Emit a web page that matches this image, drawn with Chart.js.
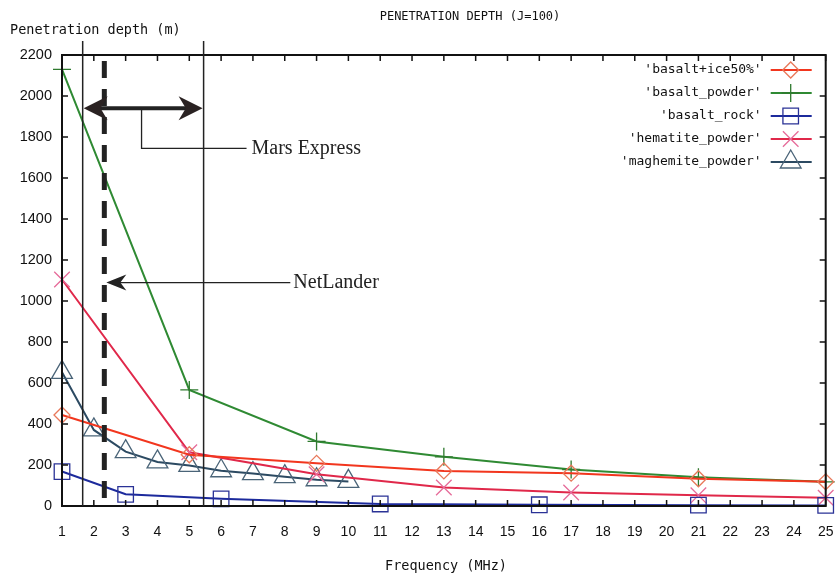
<!DOCTYPE html>
<html lang="en">
<head>
  <meta charset="UTF-8" />
  <title>Penetration depth</title>
  <script src="https://cdn.jsdelivr.net/npm/chart.js"></script>
  <style>
    html, body { margin: 0; padding: 0; background: #fff; }
    #wrap { width: 839px; height: 577px; }
  </style>
</head>
<body>
  <div id="wrap"><canvas id="chart" width="839" height="577"></canvas></div>

  <script>
    // data (frequency in MHz, depth in m)
    const iceFreq = [1, 5, 9, 13, 17, 21, 25];
    const iceDepth = [444, 250, 208, 171, 160, 133, 118];

    const powderFreq = [1, 5, 9, 13, 17, 21, 25];
    const powderDepth = [2130, 566, 315, 240, 178, 140, 118];

    const rockFreq = [1, 3, 6, 11, 16, 21, 25];
    const rockDepth = [168, 57, 35, 10, 6, 4, 3];

    const hematiteFreq = [1, 5, 9, 13, 17, 21, 25];
    const hematiteDepth = [1105, 262, 155, 90, 66, 52, 40];

    const maghemiteFreq = [1, 2, 3, 4, 5, 6, 7, 8, 9, 10];
    const maghemiteDepth = [652, 371, 265, 215, 198, 172, 158, 143, 128, 120];

    const seriesNames = ["'basalt+ice50%'", "'basalt_powder'", "'basalt_rock'", "'hematite_powder'", "'maghemite_powder'"];

    const xTicks = [1, 25, 1];       // min, max, step
    const yTicks = [0, 2200, 200];

    // annotation positions (in axis units)
    const marsLo = 1.65, marsHi = 5.45, netLander = 2.33;

    function pts(xs, ys) { return xs.map((x, i) => ({ x: x, y: ys[i] })); }

    const mono = '"DejaVu Sans Mono", "Liberation Mono", monospace';
    const serif = '"Liberation Serif", "DejaVu Serif", serif';
    const sans = '"Liberation Sans", Arial, sans-serif';

    function makeSet(i, xs, ys, line, mark, style, r) {
      return {
        label: seriesNames[i],
        data: pts(xs, ys),
        borderColor: line,
        borderWidth: 2,
        pointStyle: style,
        pointRadius: r,
        pointBorderColor: mark,
        pointBackgroundColor: 'rgba(0,0,0,0)',
        pointBorderWidth: 1.3,
        clip: false,
        tension: 0
      };
    }

    const datasets = [
      makeSet(0, iceFreq, iceDepth, '#f2361e', '#e8785a', 'rectRot', 8),
      makeSet(1, powderFreq, powderDepth, '#2f8a33', '#2f7a2f', 'cross', 9),
      makeSet(2, rockFreq, rockDepth, '#1c2a9c', '#2a3296', 'rect', 11),
      makeSet(3, hematiteFreq, hematiteDepth, '#e0284a', '#e66c9a', 'crossRot', 11),
      makeSet(4, maghemiteFreq, maghemiteDepth, '#2c4a62', '#4a6478', 'triangle', 12)
    ];

    function arrowHead(ctx, x, y, dir, len, half) {
      ctx.beginPath();
      ctx.moveTo(x, y);
      ctx.lineTo(x - dir * len, y - half);
      ctx.lineTo(x - dir * len * 0.7, y);
      ctx.lineTo(x - dir * len, y + half);
      ctx.closePath();
      ctx.fill();
    }

    const decor = {
      id: 'decor',
      afterDraw(chart) {
        const ctx = chart.ctx;
        const a = chart.chartArea;
        const xs = chart.scales.x, ys = chart.scales.y;
        ctx.save();

        // frame and inward ticks (gnuplot style)
        ctx.strokeStyle = '#111';
        ctx.lineWidth = 2;
        ctx.strokeRect(a.left, a.top, a.right - a.left, a.bottom - a.top);
        ctx.lineWidth = 1.5;
        ctx.beginPath();
        for (let v = xTicks[0]; v <= xTicks[1]; v += xTicks[2]) {
          const px = xs.getPixelForValue(v);
          ctx.moveTo(px, a.bottom); ctx.lineTo(px, a.bottom - 6);
          ctx.moveTo(px, a.top); ctx.lineTo(px, a.top + 6);
        }
        for (let v = yTicks[0]; v <= yTicks[1]; v += yTicks[2]) {
          const py = ys.getPixelForValue(v);
          ctx.moveTo(a.left, py); ctx.lineTo(a.left + 6, py);
          ctx.moveTo(a.right, py); ctx.lineTo(a.right - 6, py);
        }
        ctx.stroke();

        // Mars Express band and NetLander line
        const x1 = xs.getPixelForValue(marsLo), x2 = xs.getPixelForValue(marsHi);
        const xn = xs.getPixelForValue(netLander);
        ctx.strokeStyle = '#222';
        ctx.lineWidth = 1.5;
        ctx.beginPath();
        ctx.moveTo(x1, a.top - 14); ctx.lineTo(x1, a.bottom);
        ctx.moveTo(x2, a.top - 14); ctx.lineTo(x2, a.bottom);
        ctx.stroke();

        ctx.lineWidth = 5;
        ctx.setLineDash([17, 11]);
        ctx.beginPath();
        ctx.moveTo(xn, a.top + 6); ctx.lineTo(xn, a.bottom - 4);
        ctx.stroke();
        ctx.setLineDash([]);

        // double arrow
        const ya = ys.getPixelForValue(1940);
        ctx.fillStyle = '#2a2222';
        ctx.lineWidth = 4;
        ctx.beginPath();
        ctx.moveTo(x1 + 14, ya); ctx.lineTo(x2 - 14, ya);
        ctx.stroke();
        arrowHead(ctx, x1 + 1, ya, -1, 24, 12);
        arrowHead(ctx, x2 - 1, ya, 1, 24, 12);

        // leader to label
        const xl = xs.getPixelForValue(3.5);
        const yl = ys.getPixelForValue(1745);
        ctx.lineWidth = 1.3;
        ctx.beginPath();
        ctx.moveTo(xl, ya); ctx.lineTo(xl, yl); ctx.lineTo(xl + 105, yl);
        ctx.stroke();
        ctx.fillStyle = '#222';
        ctx.font = '20px ' + serif;
        ctx.textAlign = 'left';
        ctx.textBaseline = 'middle';
        ctx.fillText('Mars Express', xl + 110, yl);

        // NetLander pointer
        const yn = ys.getPixelForValue(1090);
        ctx.lineWidth = 1.3;
        ctx.beginPath();
        ctx.moveTo(xn + 12, yn); ctx.lineTo(xn + 186, yn);
        ctx.stroke();
        arrowHead(ctx, xn + 2, yn, -1, 20, 8);
        ctx.fillText('NetLander', xn + 189, yn);

        // legend, drawn inside the plot at top right
        const lx = a.right - 64, ly = a.top + 15;
        ctx.font = '13px ' + mono;
        ctx.textAlign = 'right';
        datasets.forEach((ds, i) => {
          const y = ly + i * 23;
          ctx.fillStyle = '#111';
          ctx.fillText(ds.label, lx, y);
          ctx.strokeStyle = ds.borderColor;
          ctx.lineWidth = 2;
          ctx.beginPath();
          ctx.moveTo(lx + 9, y); ctx.lineTo(lx + 50, y);
          ctx.stroke();
          ctx.strokeStyle = ds.pointBorderColor;
          ctx.fillStyle = 'rgba(0,0,0,0)';
          ctx.lineWidth = ds.pointBorderWidth;
          Chart.helpers.drawPoint(ctx, {
            pointStyle: ds.pointStyle,
            radius: ds.pointRadius,
            rotation: 0,
            borderWidth: ds.pointBorderWidth
          }, lx + 29, y);
        });
        ctx.restore();
      }
    };

    // texts around the plot
    const labels = {
      id: 'labels',
      afterDraw(chart) {
        const ctx = chart.ctx;
        ctx.save();
        ctx.fillStyle = '#111';
        ctx.textBaseline = 'middle';
        ctx.font = '12px ' + mono;
        ctx.textAlign = 'center';
        ctx.fillText('PENETRATION DEPTH (J=100)', 470, 17);
        ctx.font = '13.5px ' + mono;
        ctx.textAlign = 'left';
        ctx.fillText('Penetration depth (m)', 10, 30);
        ctx.textAlign = 'center';
        ctx.fillText('Frequency (MHz)', 446, 566);
        ctx.restore();
      }
    };

    new Chart(document.getElementById('chart'), {
      type: 'line',
      data: { datasets: datasets },
      plugins: [decor, labels],
      options: {
        responsive: false,
        animation: false,
        layout: { padding: { left: 0, right: 0, top: 55, bottom: 0 } },
        plugins: { legend: { display: false }, tooltip: { enabled: false } },
        scales: {
          x: {
            type: 'linear',
            min: xTicks[0], max: xTicks[1],
            grid: { display: false, drawTicks: false },
            border: { display: false },
            ticks: { stepSize: xTicks[2], color: '#111', padding: 18, maxRotation: 0, autoSkip: false,
                     font: { family: sans, size: 14 } },
            afterFit(s) { s.height = 71; s.paddingLeft = 0; s.paddingRight = 0; }
          },
          y: {
            min: yTicks[0], max: yTicks[1],
            grid: { display: false, drawTicks: false },
            border: { display: false },
            ticks: { stepSize: yTicks[2], color: '#111', padding: 10,
                     callback: (v) => String(v),
                     font: { family: sans, size: 14.5 } },
            afterFit(s) { s.width = 62; s.paddingTop = 0; s.paddingBottom = 0; }
          }
        }
      }
    });
  </script>
</body>
</html>
